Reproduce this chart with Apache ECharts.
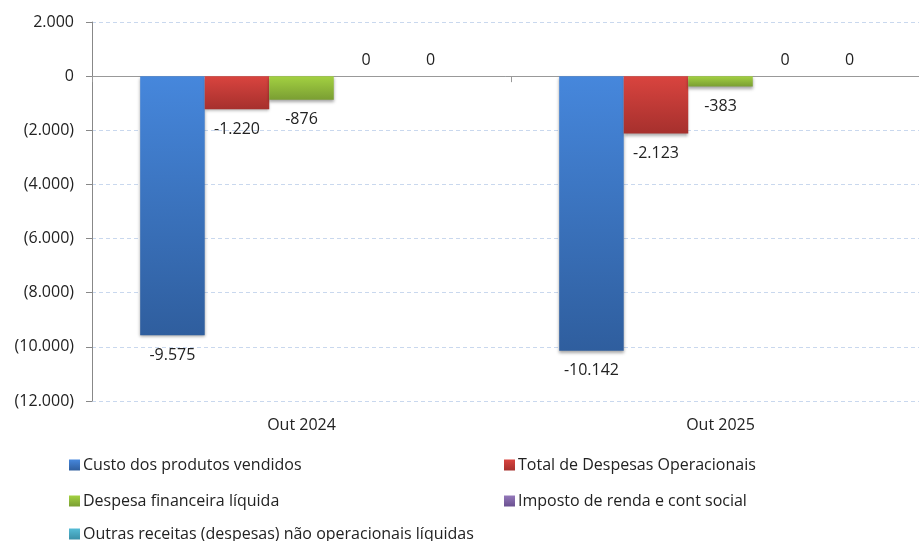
<!DOCTYPE html>
<html>
<head>
<meta charset="utf-8">
<script src="https://cdn.jsdelivr.net/npm/echarts@6/dist/echarts.min.js"></script>
<style>
  html, body { margin: 0; padding: 0; background: #fff; }
  #chart { width: 919px; height: 541px; }
</style>
</head>
<body>
<div id="chart"></div>
<script>
const categories = ['Out 2024', 'Out 2025']
const seriesNames = [
  'Custo dos produtos vendidos',
  'Total de Despesas Operacionais',
  'Despesa financeira líquida',
  'Imposto de renda e cont social',
  'Outras receitas (despesas) não operacionais líquidas',
]
const custo = [-9575, -10142]
const despesasOp = [-1220, -2123]
const despesaFin = [-876, -383]
const imposto = [0, 0]
const outras = [0, 0]

// [top, bottom] of each bar gradient
const colors = [
  ['#4687DC', '#2F5E9E'],
  ['#D9443F', '#A6302D'],
  ['#A3D141', '#7A9E33'],
  ['#9478BA', '#6A5090'],
  ['#55BCD6', '#3A90A8'],
]

// legend slots: two columns, three rows
const legendPos = [
  [64, 452],
  [499, 452],
  [64, 488],
  [499, 488],
  [64, 521],
]

const fmt = (v) => Math.abs(v).toString().replace(/\B(?=(\d{3})+(?!\d))/g, '.')
const fmtSigned = (v) => (v < 0 ? '-' : '') + fmt(v)
const fmtAxis = (v) => (v < 0 ? '(' + fmt(v) + ')' : fmt(v))

const font = "'Open Sans', 'Noto Sans', sans-serif"

const grad = (c) => new echarts.graphic.LinearGradient(0, 0, 0, 1, [
  { offset: 0, color: c[0] },
  { offset: 1, color: c[1] },
])

const makeSeries = (name, data, i) => {
  const zero = data.every((v) => v === 0)
  return {
    name: name,
    type: 'bar',
    data: data,
    barGap: '0%',
    barCategoryGap: '23%',
    itemStyle: {
      color: grad(colors[i]),
      shadowColor: 'rgba(0,0,0,0.35)',
      shadowBlur: 3,
      shadowOffsetY: 2,
    },
    label: {
      show: true,
      position: zero ? 'top' : 'bottom',
      distance: zero ? 8 : 12,
      formatter: (p) => fmtSigned(p.value),
      fontFamily: font,
      fontSize: 16,
      color: '#222',
    },
    emphasis: { disabled: true },
  }
}

var myChart = echarts.init(document.getElementById('chart'))

var option = {
  animation: false,
  textStyle: { fontFamily: font },
  grid: { left: 92, top: 22, width: 838, height: 379, containLabel: false, outerBoundsMode: 'none' },
  legend: seriesNames.map((name, i) => ({
    data: [name],
    left: legendPos[i][0],
    top: legendPos[i][1],
    itemWidth: 11,
    itemHeight: 11,
    icon: 'rect',
    selectedMode: false,
    textStyle: { fontSize: 16, color: '#222', padding: [0, 0, 0, -2] },
  })),
  xAxis: [
    {
      type: 'category',
      data: categories,
      position: 'bottom',
      axisLine: { show: false, onZero: false },
      axisTick: { show: false },
      axisLabel: { fontSize: 16, color: '#222', margin: 16 },
    },
    {
      type: 'category',
      data: categories,
      position: 'bottom',
      axisLine: { onZero: true, lineStyle: { color: '#999', width: 1 } },
      axisTick: { show: true, length: 6, lineStyle: { color: '#999' } },
      axisLabel: { show: false },
    },
  ],
  yAxis: {
    type: 'value',
    min: -12000,
    max: 2000,
    interval: 2000,
    axisLine: { show: true, lineStyle: { color: '#888' } },
    axisTick: { show: true, length: 6, lineStyle: { color: '#888' } },
    axisLabel: { fontSize: 16, color: '#222', margin: 18, formatter: fmtAxis },
    splitLine: { lineStyle: { color: '#C9D8EE', type: [4, 3] } },
  },
  series: [
    makeSeries(seriesNames[0], custo, 0),
    makeSeries(seriesNames[1], despesasOp, 1),
    makeSeries(seriesNames[2], despesaFin, 2),
    makeSeries(seriesNames[3], imposto, 3),
    makeSeries(seriesNames[4], outras, 4),
  ],
}

myChart.setOption(option)
</script>
</body>
</html>
